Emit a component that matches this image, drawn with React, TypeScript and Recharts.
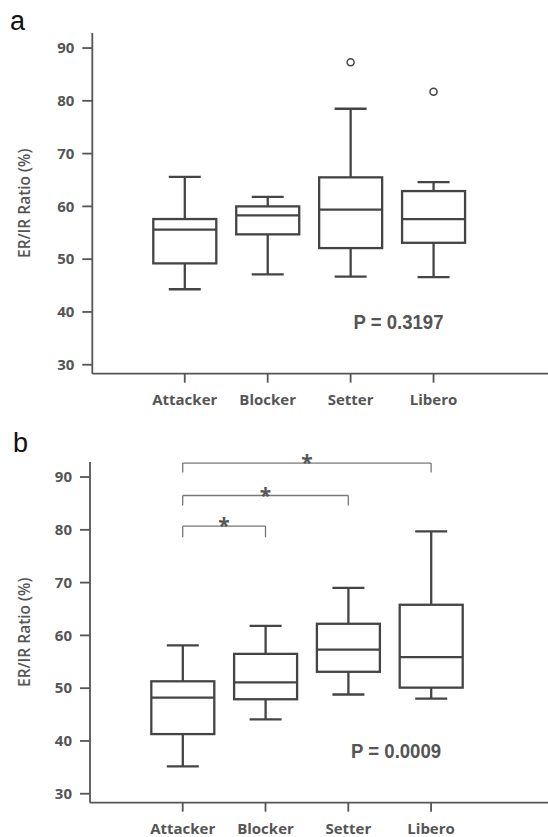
import React from "react";
import {
  ComposedChart,
  Bar,
  Scatter,
  XAxis,
  YAxis,
  ReferenceLine,
  ReferenceDot,
} from "recharts";

const positions = ["Attacker", "Blocker", "Setter", "Libero"];
const yTicks = [30, 40, 50, 60, 70, 80, 90];

// panel a
const aMin = [44.3, 47.1, 46.7, 46.6];
const aQ1 = [49.2, 54.7, 52.1, 53.1];
const aMedian = [55.6, 58.3, 59.4, 57.6];
const aQ3 = [57.6, 60.0, 65.5, 62.9];
const aMax = [65.6, 61.8, 78.5, 64.6];
const aOutliers = [null, null, 87.3, 81.7];
const aPValue = "P = 0.3197";

// panel b
const bMin = [35.2, 44.1, 48.8, 48.0];
const bQ1 = [41.3, 47.9, 53.1, 50.1];
const bMedian = [48.2, 51.1, 57.3, 55.9];
const bQ3 = [51.3, 56.5, 62.2, 65.8];
const bMax = [58.1, 61.8, 69.0, 79.7];
const bOutliers = [null, null, null, null];
const bPValue = "P = 0.0009";

// significance brackets in panel b
const bracketFrom = ["Attacker", "Attacker", "Attacker"];
const bracketTo = ["Blocker", "Setter", "Libero"];
const bracketTop = [80.7, 86.5, 92.65];
const bracketEnd = [78.6, 84.6, 90.85];

const ink = "#444";
const grey = "#555";
const font = "'Open Sans', 'DejaVu Sans', sans-serif";

const build = (
  mn: number[],
  q1: number[],
  med: number[],
  q3: number[],
  mx: number[],
  out: (number | null)[]
) =>
  positions.map((name, i) => ({
    name,
    box: [q1[i], q3[i]],
    min: mn[i],
    median: med[i],
    max: mx[i],
    outlier: out[i],
  }));

const dataA = build(aMin, aQ1, aMedian, aQ3, aMax, aOutliers);
const dataB = build(bMin, bQ1, bMedian, bQ3, bMax, bOutliers);

function BoxShape(props: any) {
  const { x, y, width, height, payload } = props;
  const [q1, q3] = payload.box;
  const ppu = height / (q3 - q1);
  const toY = (v: number) => y + (q3 - v) * ppu;
  const cx = x + width / 2;
  const cap = 16;
  const top = toY(payload.max);
  const bot = toY(payload.min);
  return (
    <g stroke={ink} strokeWidth={2.3} fill="none">
      <line x1={cx} x2={cx} y1={top} y2={y} />
      <line x1={cx} x2={cx} y1={y + height} y2={bot} />
      <line x1={cx - cap} x2={cx + cap} y1={top} y2={top} />
      <line x1={cx - cap} x2={cx + cap} y1={bot} y2={bot} />
      <rect x={x} y={y} width={width} height={height} fill="#fff" />
      <line
        x1={x}
        x2={x + width}
        y1={toY(payload.median)}
        y2={toY(payload.median)}
      />
    </g>
  );
}

function OutlierShape(props: any) {
  const { cx, cy, payload } = props;
  if (payload == null || payload.outlier == null) return <g />;
  return <circle cx={cx} cy={cy} r={3.5} fill="#fff" stroke={ink} strokeWidth={1.5} />;
}

const pLabel = (text: string) => (p: any) => {
  const vb = p.viewBox;
  const cx = vb.x + vb.width / 2 - 35;
  const cy = vb.y + vb.height / 2;
  return (
    <text
      x={cx}
      y={cy + 7.5}
      textAnchor="middle"
      fontFamily="'Liberation Sans', Arial, sans-serif"
      fontWeight={700}
      fontSize={20}
      fill={grey}
      textLength={90}
      lengthAdjust="spacingAndGlyphs"
    >
      {text}
    </text>
  );
};

function Panel({
  data,
  pText,
  top,
  axisWidth,
  padLeft,
  padRight,
  brackets,
}: {
  data: any[];
  pText: string;
  top: number;
  axisWidth: number;
  padLeft: number;
  padRight: number;
  brackets: boolean;
}) {
  const axisStyle = { stroke: grey, strokeWidth: 1.8 };
  const tick = { fill: grey, fontSize: 15, fontWeight: 700, fontFamily: font };
  return (
    <ComposedChart
      width={548}
      height={top + 340.7 + 46.3}
      data={data}
      margin={{ top, right: 0, bottom: 0, left: 0 }}
      style={{ fontFamily: font }}
    >
      <XAxis
        dataKey="name"
        type="category"
        height={46.3}
        padding={{ left: padLeft, right: padRight }}
        axisLine={axisStyle}
        tickLine={axisStyle}
        tickSize={9}
        tickMargin={12}
        tick={tick}
        interval={0}
      />
      <YAxis
        type="number"
        domain={[28.3, 92.85]}
        ticks={yTicks}
        allowDataOverflow
        width={axisWidth}
        axisLine={axisStyle}
        tickLine={axisStyle}
        tickSize={10}
        tickMargin={8}
        tick={tick}
        label={{
          value: "ER/IR Ratio (%)",
          angle: -90,
          position: "insideLeft",
          offset: 25,
          style: {
            textAnchor: "middle",
            fill: grey,
            fontSize: 15.5,
            fontWeight: 600,
            fontFamily: font,
          },
        }}
      />
      <Bar
        dataKey="box"
        barSize={63}
        shape={<BoxShape />}
        isAnimationActive={false}
      />
      <Scatter dataKey="outlier" shape={<OutlierShape />} isAnimationActive={false} />
      {brackets &&
        bracketFrom.map((from, i) => (
          <React.Fragment key={i}>
            <ReferenceLine
              segment={[
                { x: from, y: bracketTop[i] },
                { x: bracketTo[i], y: bracketTop[i] },
              ]}
              stroke="#777"
              strokeWidth={1.3}
              ifOverflow="visible"
              label={{
                value: "*",
                position: "top",
                offset: -7,
                fill: grey,
                fontSize: 21,
                fontWeight: 700,
                fontFamily: font,
              }}
            />
            <ReferenceLine
              segment={[
                { x: from, y: bracketTop[i] },
                { x: from, y: bracketEnd[i] },
              ]}
              stroke="#777"
              strokeWidth={1.3}
              ifOverflow="visible"
            />
            <ReferenceLine
              segment={[
                { x: bracketTo[i], y: bracketTop[i] },
                { x: bracketTo[i], y: bracketEnd[i] },
              ]}
              stroke="#777"
              strokeWidth={1.3}
              ifOverflow="visible"
            />
          </React.Fragment>
        ))}
      <ReferenceDot
        x="Libero"
        y={38.15}
        r={0}
        stroke="none"
        fill="none"
        ifOverflow="visible"
        label={pLabel(pText)}
      />
    </ComposedChart>
  );
}

const letter = (ch: string, x: number, y: number) => (
  <svg
    width={40}
    height={40}
    style={{ position: "absolute", left: 0, top: y - 32 }}
  >
    <text
      x={x}
      y={32}
      fontFamily="'Liberation Sans', Arial, sans-serif"
      fontSize={27}
      fill="#111"
    >
      {ch}
    </text>
  </svg>
);

export default function App() {
  return (
    <div
      style={{
        position: "absolute",
        left: 0,
        top: 0,
        width: 548,
        height: 837,
        overflow: "hidden",
        background: "#fff",
      }}
    >
      {letter("a", 10, 30)}
      {letter("b", 13, 452)}
      <div style={{ position: "absolute", left: 0, top: 0 }}>
        <Panel
          data={dataA}
          pText={aPValue}
          top={33}
          axisWidth={92.3}
          padLeft={51}
          padRight={73}
          brackets={false}
        />
      </div>
      <div style={{ position: "absolute", left: 0, top: 420 }}>
        <Panel
          data={dataB}
          pText={bPValue}
          top={42}
          axisWidth={90}
          padLeft={51.3}
          padRight={75.5}
          brackets={true}
        />
      </div>
    </div>
  );
}
